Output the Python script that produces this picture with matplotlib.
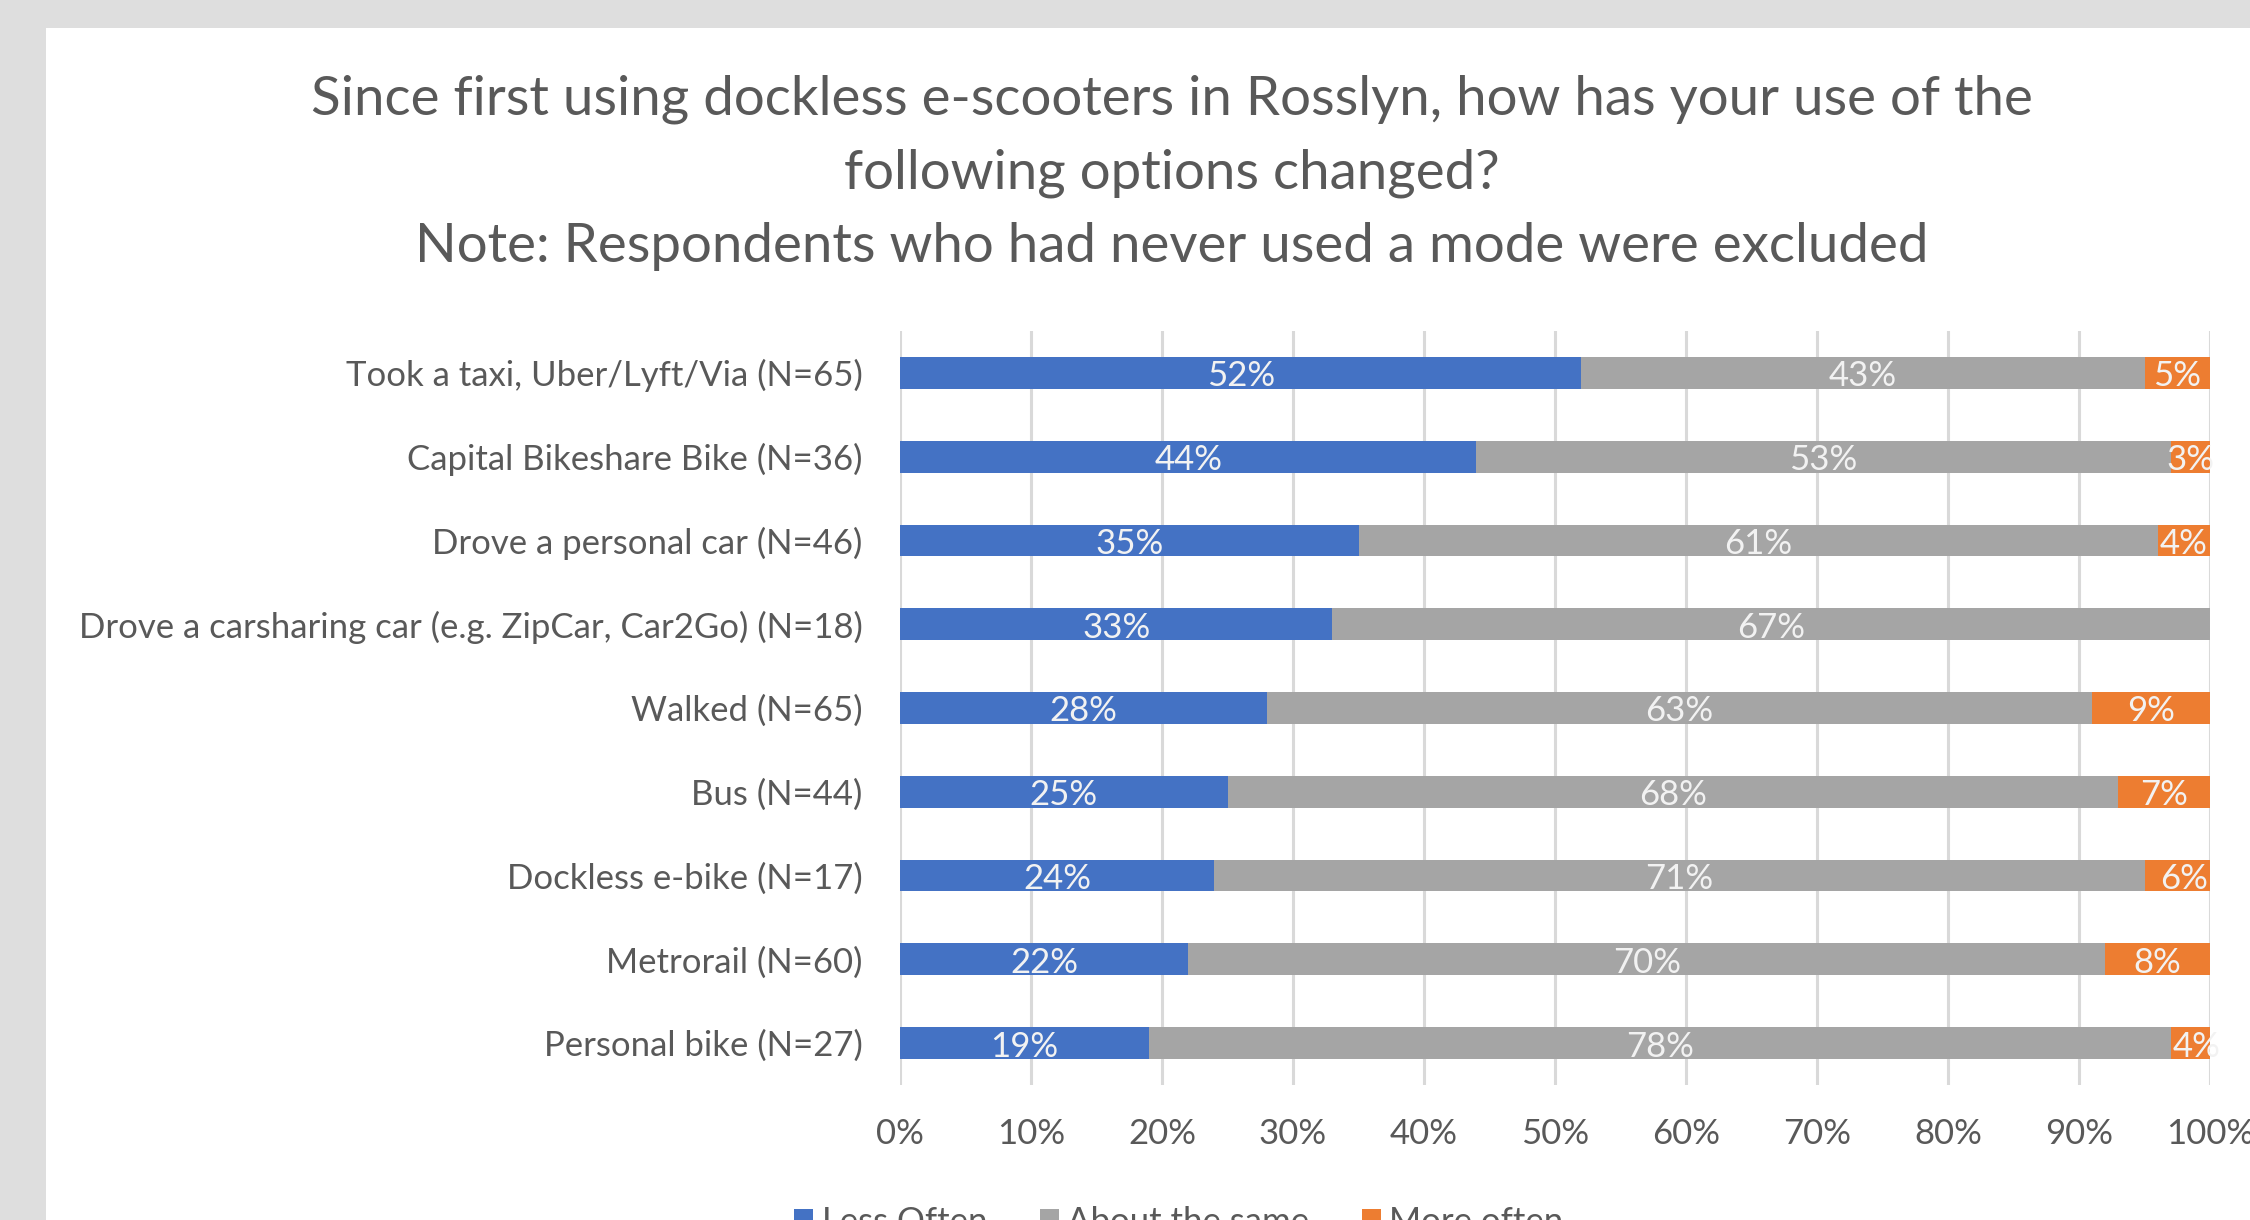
import matplotlib
matplotlib.use("Agg")
import matplotlib.pyplot as plt
from matplotlib.patches import Rectangle, Patch
import numpy as np

# Survey categories (top to bottom) and the share of respondents per answer, in percent
categories = [
    "Took a taxi, Uber/Lyft/Via (N=65)",
    "Capital Bikeshare Bike (N=36)",
    "Drove a personal car (N=46)",
    "Drove a carsharing car (e.g. ZipCar, Car2Go) (N=18)",
    "Walked (N=65)",
    "Bus (N=44)",
    "Dockless e-bike (N=17)",
    "Metrorail (N=60)",
    "Personal bike (N=27)",
]
less_often = [52, 44, 35, 33, 28, 25, 24, 22, 19]
about_same = [43, 53, 61, 67, 63, 68, 71, 70, 78]
more_often = [5, 3, 4, 0, 9, 7, 6, 8, 4]
series_names = ["Less Often", "About the same", "More often"]
x_ticks = [0, 10, 20, 30, 40, 50, 60, 70, 80, 90, 100]
title_lines = [
    "Since first using dockless e-scooters in Rosslyn, how has your use of the",
    "following options changed?",
    "Note: Respondents who had never used a mode were excluded",
]

FONT = ["Lato", "DejaVu Sans"]
TEXT_COLOR = "#595959"
SERIES_COLORS = ["#4472C4", "#A5A5A5", "#ED7D31"]
plt.rcParams["font.family"] = FONT

W, H = 2250, 1220
fig = plt.figure(figsize=(W / 100, H / 100), dpi=100, facecolor="#DEDEDE")

# White chart area over the grey surround
fig.add_artist(Rectangle((46 / W, 0), 1 - 46 / W, 1 - 28 / H,
                         transform=fig.transFigure, facecolor="white",
                         edgecolor="none", zorder=0))

ax = fig.add_axes([900 / W, 1 - 1085 / H, (2210 - 900) / W, (1085 - 331) / H])
ax.set_facecolor("none")

y = np.arange(len(categories))
series = [less_often, about_same, more_often]
left = np.zeros(len(categories))
bar_h = 0.38
for values, name, color in zip(series, series_names, SERIES_COLORS):
    vals = np.array(values, dtype=float)
    bars = ax.barh(y, vals, left=left, height=bar_h, color=color,
                   label=name, zorder=3)
    for rect, v in zip(bars, vals):
        if v <= 0:
            continue
        cx = rect.get_x() + rect.get_width() / 2
        ax.annotate(f"{int(v)}%", (cx, rect.get_y() + rect.get_height() / 2),
                    xytext=(0, -2.5), textcoords="offset points",
                    ha="center", va="center", fontsize=25, color="#F2F2F2",
                    zorder=4, annotation_clip=False)
    left += vals

ax.set_xlim(0, 100)
ax.set_ylim(len(categories) - 0.5, -0.5)
ax.set_yticks(y)
ax.set_yticklabels(categories, fontsize=25, color=TEXT_COLOR)
ax.set_xticks(x_ticks)
ax.set_xticklabels([f"{t}%" for t in x_ticks], fontsize=25, color=TEXT_COLOR)
ax.tick_params(axis="y", length=0, pad=27)
ax.tick_params(axis="x", length=0, pad=24)
ax.grid(axis="x", color="#D9D9D9", linewidth=2.2, zorder=1)
ax.set_axisbelow(True)
for s in ax.spines.values():
    s.set_visible(False)

# Three-line title
baselines = [115, 188, 262]
for line, b in zip(title_lines, baselines):
    fig.text(1172 / W, 1 - b / H, line, ha="center", va="baseline",
             fontsize=39.3, color=TEXT_COLOR)

# Legend along the bottom edge
handles = [Patch(facecolor=c, edgecolor="none") for c in SERIES_COLORS]
fig.legend(handles, series_names, loc="center", ncol=3,
           bbox_to_anchor=(1179 / W, 1 - 1222 / H),
           bbox_transform=fig.transFigure, frameon=False, fontsize=25,
           labelcolor=TEXT_COLOR, handlelength=0.55, handleheight=0.55,
           handletextpad=0.25, columnspacing=1.5)

fig.savefig("out.png", dpi=100, facecolor=fig.get_facecolor())
